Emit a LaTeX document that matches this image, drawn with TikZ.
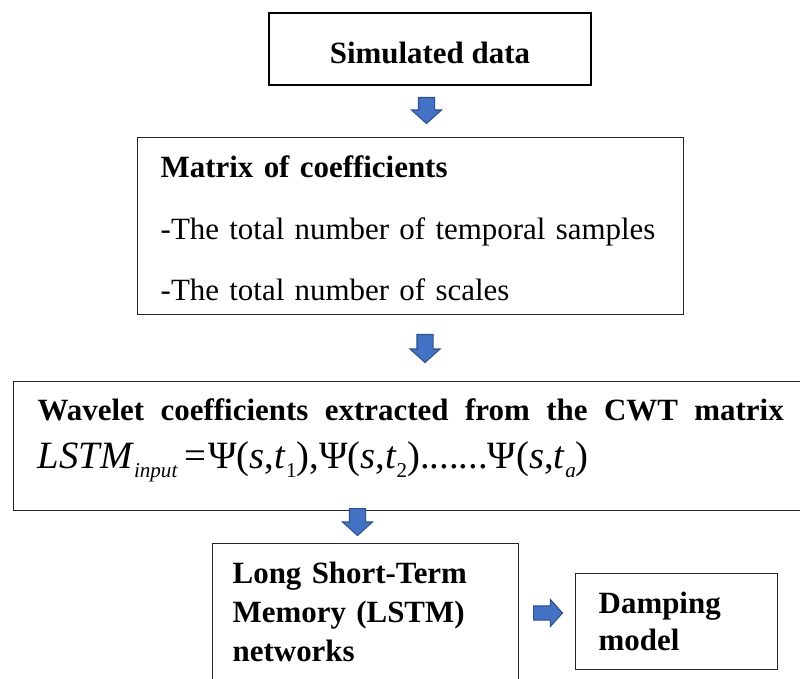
\documentclass[tikz,border=0pt]{standalone}
\usepackage{fontspec}
\setmainfont{Liberation Serif}
\usetikzlibrary{shapes.arrows}
\definecolor{arrowfill}{HTML}{4472C4}
\definecolor{arrowedge}{HTML}{2F528F}
% lowered small index, as in the equation editor
\newcommand{\lowidx}[1]{\raisebox{-5pt}{\fontsize{12}{12}\selectfont #1}}
\tikzset{
  box/.style={draw=black!85, line width=0.8pt, anchor=north west, align=left, inner ysep=0pt},
  blockdown/.style={single arrow, draw=arrowedge, fill=arrowfill, line width=0.6pt, inner sep=1.5mm,
    minimum width=5.8mm, single arrow head extend=1.4mm, single arrow tip angle=96,
    shape border rotate=270, anchor=tail},
  blockright/.style={blockdown, shape border rotate=0, inner sep=1.3mm, minimum width=5.2mm,
    single arrow head extend=1.3mm}
}

\begin{document}
\begin{tikzpicture}
  \useasboundingbox (0,0) rectangle (16,-13.58);
  \clip (0,0) rectangle (16,-13.58);
  % boxes, top to bottom
  \node[box, line width=1.1pt, draw=black, align=center, inner xsep=0pt, minimum width=6.44cm,
    text height=1.02cm, text depth=0.42cm, font={\fontsize{17.6}{21}\selectfont\bfseries}]
    (sim) at (5.36,-0.24) {Simulated data};
  \node[box, text width=10cm, inner xsep=0.46cm, text height=0.8cm, text depth=2.74cm,
    font={\fontsize{17.6}{34.9}\selectfont}] (mat) at (2.74,-2.74)
    {\textbf{Matrix of coefficients}\\-The total number of temporal samples\\-The total number of scales};
  \node[box, text width=14.92cm, inner xsep=0.48cm, text height=0.78cm, text depth=1.8cm,
    font={\fontsize{17.6}{27.2}\selectfont}] (cwt) at (0.26,-7.62)
    {\makebox[14.92cm][l]{\bfseries Wavelet\hfill coefficients\hfill extracted\hfill from\hfill the\hfill CWT\hfill matrix}\\
     {\fontsize{22}{27.2}\selectfont\mdseries\textit{LSTM}\lowidx{\textit{input}}\hspace{4pt}=\hspace{1pt}Ψ(\textit{s},\textit{t}\lowidx{1}),Ψ(\textit{s},\textit{t}\lowidx{2}).......Ψ(\textit{s},\textit{t}\lowidx{\textit{a}})}};
  \node[box, text width=5.32cm, inner xsep=0.4cm, text height=0.8cm, text depth=2.6cm,
    font={\fontsize{17.6}{22}\selectfont\bfseries}] (lstm) at (4.24,-10.86)
    {Long Short-Term\\Memory (LSTM)\\networks};
  \node[box, text width=3.12cm, inner xsep=0.46cm, text height=0.8cm, text depth=1.12cm,
    font={\fontsize{17.6}{21}\selectfont\bfseries}] (damp) at (11.5,-11.46)
    {Damping\\model};
  % block arrows between the boxes
  \node[blockdown, minimum height=5.2mm] (ar1) at (8.53,-1.94) {};
  \node[blockdown, minimum height=5.6mm] (ar2) at (8.5,-6.68) {};
  \node[blockdown, minimum height=5.4mm] (ar3) at (7.15,-10.16) {};
  \node[blockright, minimum height=5.8mm] (ar4) at (10.66,-12.26) {};
\end{tikzpicture}
\end{document}
